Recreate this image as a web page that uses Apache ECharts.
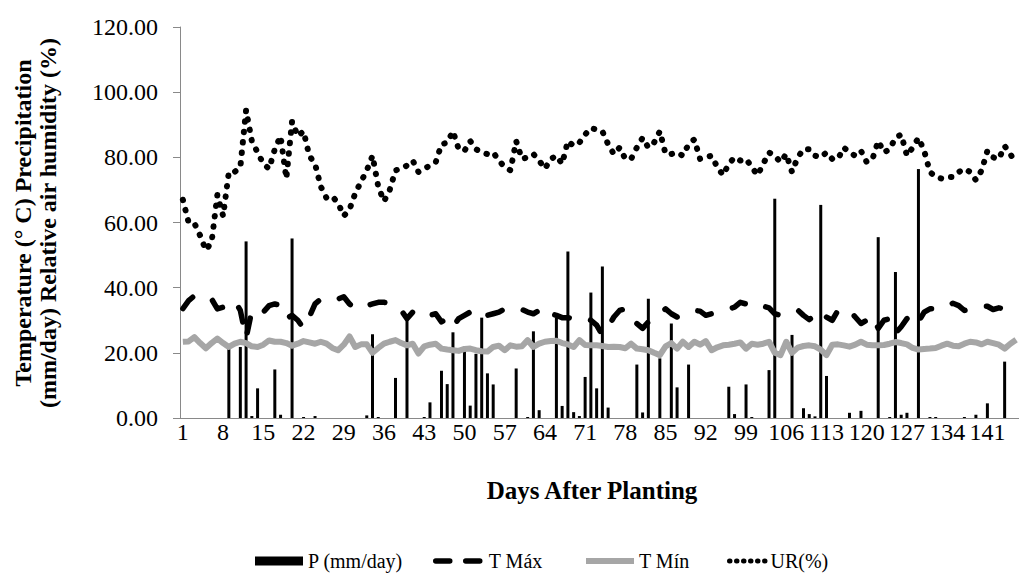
<!DOCTYPE html>
<html>
<head>
<meta charset="utf-8">
<script src="https://cdn.jsdelivr.net/npm/echarts@6/dist/echarts.min.js"></script>
<style>
  html, body { margin: 0; padding: 0; background: #ffffff; }
  #chart { width: 1019px; height: 580px; }
</style>
</head>
<body>
<div id="chart"></div>
<script>
// Days after planting (1 .. 146)
const days = [];
for (let d = 1; d <= 146; d++) days.push(String(d));

// Daily precipitation (mm/day)
const precipitation = [
  0, 0, 0, 0, 0, 0, 0, 0, 21.3, 0,
  21.8, 54.2, 0.6, 9.1, 0, 0, 14.9, 1.0, 0, 55.1,
  0, 0.3, 0, 0.6, 0, 0, 0, 0, 0, 0,
  0, 0, 0.8, 25.7, 0.3, 0, 0, 12.3, 0, 31.7,
  0, 0, 0.3, 4.8, 0, 14.5, 10.4, 26.3, 0, 21.5,
  3.8, 19.7, 30.8, 13.7, 10.3, 0, 0, 0, 15.2, 0,
  0.3, 26.6, 2.4, 0, 0, 30.8, 3.7, 51.1, 1.8, 0.6,
  12.6, 38.5, 9.1, 46.5, 3.2, 0, 0, 0, 0, 16.4,
  1.7, 36.6, 0, 18.3, 0, 29.0, 9.4, 0, 16.4, 0,
  0, 0, 0, 0, 0, 9.6, 1.2, 0, 10.3, 0.3,
  0, 0, 14.7, 67.3, 0, 0, 25.5, 0, 3.0, 1.2,
  0.5, 65.4, 12.9, 0, 0, 0, 1.6, 0, 2.2, 0,
  0, 55.5, 0, 0.3, 44.8, 1.0, 1.6, 0, 76.4, 0,
  0.3, 0.3, 0, 0, 0, 0, 0.3, 0, 1.0, 0,
  4.5, 0, 0, 17.3, 0, 0
];

// Maximum air temperature (°C)
const tMax = [
  33.6, 36.0, 37.5, 37.8, 37.2, 36.5, 33.5, 34.0, 35.0, 36.0,
  33.0, 24.5, 33.0, 32.0, 32.5, 34.5, 35.0, 34.5, 30.5, 31.5,
  30.0, 27.5, 31.0, 35.0, 36.5, 36.5, 36.0, 36.5, 37.2, 35.0,
  33.5, 34.0, 34.5, 35.0, 35.5, 35.5, 35.2, 34.5, 33.0, 30.5,
  32.5, 32.5, 33.0, 31.5, 32.0, 29.5, 30.5, 28.0, 30.5, 31.5,
  32.5, 33.5, 33.0, 31.5, 32.0, 32.5, 33.5, 33.0, 33.0, 33.3,
  32.5, 32.0, 33.0, 34.0, 32.0, 31.5, 30.8, 30.8, 30.5, 30.0,
  30.5, 30.0, 28.5, 25.5, 28.0, 31.0, 33.0, 33.5, 31.0, 29.0,
  27.5, 29.5, 31.0, 32.0, 33.5, 32.0, 31.0, 32.0, 32.5, 33.0,
  32.8, 31.5, 32.0, 32.5, 33.0, 33.5, 34.0, 35.5, 35.0, 34.0,
  33.6, 34.3, 33.8, 32.0, 31.5, 32.0, 32.5, 33.1, 31.5, 30.2,
  31.5, 33.0, 31.0, 30.0, 33.0, 32.5, 33.0, 31.0, 29.0, 30.0,
  31.5, 27.5, 30.0, 30.5, 26.0, 28.0, 30.5, 32.0, 29.5, 32.5,
  33.5, 33.5, 33.5, 34.5, 35.2, 34.5, 33.0, 33.5, 34.0, 34.3,
  34.3, 33.3, 33.8, 33.5, 34.0, 34.6
];

// Minimum air temperature (°C)
const tMin = [
  23.4, 23.5, 24.8, 23.0, 21.4, 23.0, 24.4, 23.0, 21.8, 22.8,
  23.4, 23.0, 22.0, 21.8, 22.5, 23.8, 23.4, 23.4, 23.0, 22.2,
  22.8, 23.6, 23.2, 22.8, 23.4, 22.8, 21.5, 20.8, 22.5, 25.0,
  21.8, 22.6, 22.6, 20.0, 21.5, 22.8, 23.4, 23.9, 23.0, 22.3,
  22.8, 19.8, 22.0, 22.5, 22.8, 21.3, 21.0, 20.8, 20.6, 21.2,
  21.3, 20.8, 20.5, 20.4, 21.8, 22.2, 20.8, 22.3, 21.9, 22.0,
  23.9, 21.8, 22.8, 23.4, 23.6, 23.7, 23.0, 22.6, 21.8, 23.9,
  22.4, 22.3, 22.3, 22.1, 21.8, 21.9, 21.8, 21.4, 22.8, 21.3,
  21.1, 20.8, 20.0, 19.3, 22.0, 23.0, 21.3, 23.4, 21.8, 23.4,
  22.5, 23.6, 20.8, 21.7, 22.3, 22.5, 22.8, 23.2, 21.3, 22.8,
  22.5, 22.8, 23.4, 20.0, 19.3, 23.4, 20.0, 21.6, 22.1, 22.3,
  22.0, 21.0, 19.3, 22.5, 22.6, 22.3, 21.9, 22.5, 23.4, 22.5,
  22.3, 22.3, 22.4, 22.8, 23.3, 23.0, 22.6, 21.5, 21.0, 21.2,
  21.3, 21.5, 22.2, 22.8, 22.2, 22.0, 22.8, 23.4, 23.2, 22.6,
  23.4, 23.0, 22.5, 21.3, 22.8, 24.0
];

// Relative air humidity (%)
const humidity = [
  67.0, 60.0, 59.8, 56.0, 51.5, 54.0, 68.5, 62.0, 75.5, 75.5,
  77.0, 94.5, 85.0, 81.5, 78.0, 76.5, 82.5, 86.5, 73.5, 91.0,
  86.5, 88.0, 80.5, 78.0, 71.0, 67.5, 68.0, 66.0, 62.0, 64.0,
  69.0, 72.5, 76.0, 80.5, 71.0, 66.5, 70.0, 76.0, 76.5, 77.5,
  79.0, 75.5, 76.5, 77.5, 78.5, 84.0, 84.5, 88.0, 82.5, 82.0,
  85.0, 82.5, 81.5, 81.0, 81.5, 79.0, 77.0, 76.0, 85.0, 79.5,
  80.0, 81.0, 79.0, 76.5, 79.5, 80.5, 78.0, 85.0, 83.5, 84.5,
  87.0, 89.0, 88.5, 88.0, 84.0, 81.0, 83.0, 79.5, 79.5, 83.0,
  86.0, 83.0, 84.5, 88.0, 81.0, 81.0, 81.5, 80.5, 84.0, 85.5,
  79.5, 80.0, 80.5, 77.0, 74.5, 78.0, 80.0, 79.0, 79.5, 77.0,
  74.5, 78.0, 81.5, 80.5, 78.5, 81.0, 75.5, 80.0, 82.5, 82.5,
  80.5, 80.0, 81.5, 79.5, 79.5, 83.0, 81.5, 80.5, 82.0, 78.5,
  79.5, 85.0, 81.5, 82.5, 86.0, 87.0, 80.5, 83.0, 86.0, 82.0,
  75.5, 74.0, 73.5, 74.0, 74.0, 75.5, 76.5, 75.5, 73.0, 76.0,
  82.0, 80.0, 79.5, 83.5, 81.0, 78.0
];

const seriesNames = ['P (mm/day)', 'T Máx', 'T Mín', 'UR(%)'];
const yTitle = 'Temperature (° C) Precipitation\n(mm/day) Relative air humidity (%)';
const xTitle = 'Days After Planting';

const serif = 'Liberation Serif';
const axisGrey = '#898989';
const minGrey = '#a6a6a6';
const legendText = { color: '#000', fontFamily: serif, fontSize: 20 };

// one legend block per entry, each placed on its own
function legendBlock(item, left, width) {
  item.textStyle = legendText;
  return {
    left: left,
    top: 551,
    itemWidth: width,
    itemHeight: 9,
    padding: 0,
    textStyle: legendText,
    data: [item]
  };
}

const chart = echarts.init(document.getElementById('chart'), null, { renderer: 'svg' });

chart.setOption({
  animation: false,
  backgroundColor: '#ffffff',
  textStyle: { fontFamily: serif },
  grid: { left: 180, right: 0, top: 27, bottom: 162, containLabel: false },
  xAxis: {
    type: 'category',
    data: days,
    boundaryGap: true,
    axisLine: { lineStyle: { color: axisGrey, width: 1 } },
    axisTick: { interval: 6, length: 6, lineStyle: { color: axisGrey } },
    axisLabel: { interval: 6, margin: 2, color: '#000', fontFamily: serif, fontSize: 24 },
    splitLine: { show: false }
  },
  yAxis: {
    type: 'value',
    min: 0,
    max: 120,
    interval: 20,
    axisLine: { show: true, lineStyle: { color: axisGrey, width: 1 } },
    axisTick: { show: true, length: 7, lineStyle: { color: axisGrey } },
    axisLabel: {
      margin: 22, color: '#000', fontFamily: serif, fontSize: 24,
      formatter: v => v.toFixed(2)
    },
    splitLine: { show: false }
  },
  legend: [
    legendBlock({ name: seriesNames[0], icon: 'rect' }, 255, 48),
    legendBlock({
      name: seriesNames[1],
      itemStyle: { opacity: 0 },
      lineStyle: { type: [14, 16], width: 5.5, cap: 'round' }
    }, 433, 48),
    legendBlock({
      name: seriesNames[2],
      itemStyle: { opacity: 0 },
      lineStyle: { width: 6 }
    }, 583, 48),
    legendBlock({
      name: seriesNames[3],
      itemStyle: { opacity: 0 },
      lineStyle: { type: [0.5, 6.5], width: 5, cap: 'round' }
    }, 727, 36)
  ],
  graphic: [
    {
      type: 'text',
      x: 35,
      y: 223,
      rotation: Math.PI / 2,
      style: {
        text: yTitle,
        font: 'bold 24px "Liberation Serif"',
        fill: '#000',
        align: 'center',
        verticalAlign: 'middle',
        lineHeight: 25
      }
    },
    {
      type: 'text',
      x: 592,
      y: 490,
      style: {
        text: xTitle,
        font: 'bold 25px "Liberation Serif"',
        fill: '#000',
        align: 'center',
        verticalAlign: 'middle'
      }
    }
  ],
  series: [
    {
      name: seriesNames[0],
      type: 'bar',
      data: precipitation,
      barWidth: 3,
      itemStyle: { color: '#000' }
    },
    {
      name: seriesNames[1],
      type: 'line',
      data: tMax,
      symbol: 'none',
      itemStyle: { color: '#000' },
      lineStyle: { color: '#000', width: 5.5, type: [15, 22], cap: 'round', join: 'round' }
    },
    {
      name: seriesNames[2],
      type: 'line',
      data: tMin,
      symbol: 'none',
      itemStyle: { color: minGrey },
      lineStyle: { color: minGrey, width: 6, join: 'round' }
    },
    {
      name: seriesNames[3],
      type: 'line',
      data: humidity,
      symbol: 'none',
      itemStyle: { color: '#000' },
      lineStyle: { color: '#000', width: 6, type: [0.5, 10], cap: 'round', join: 'round' }
    }
  ]
});
</script>
</body>
</html>
